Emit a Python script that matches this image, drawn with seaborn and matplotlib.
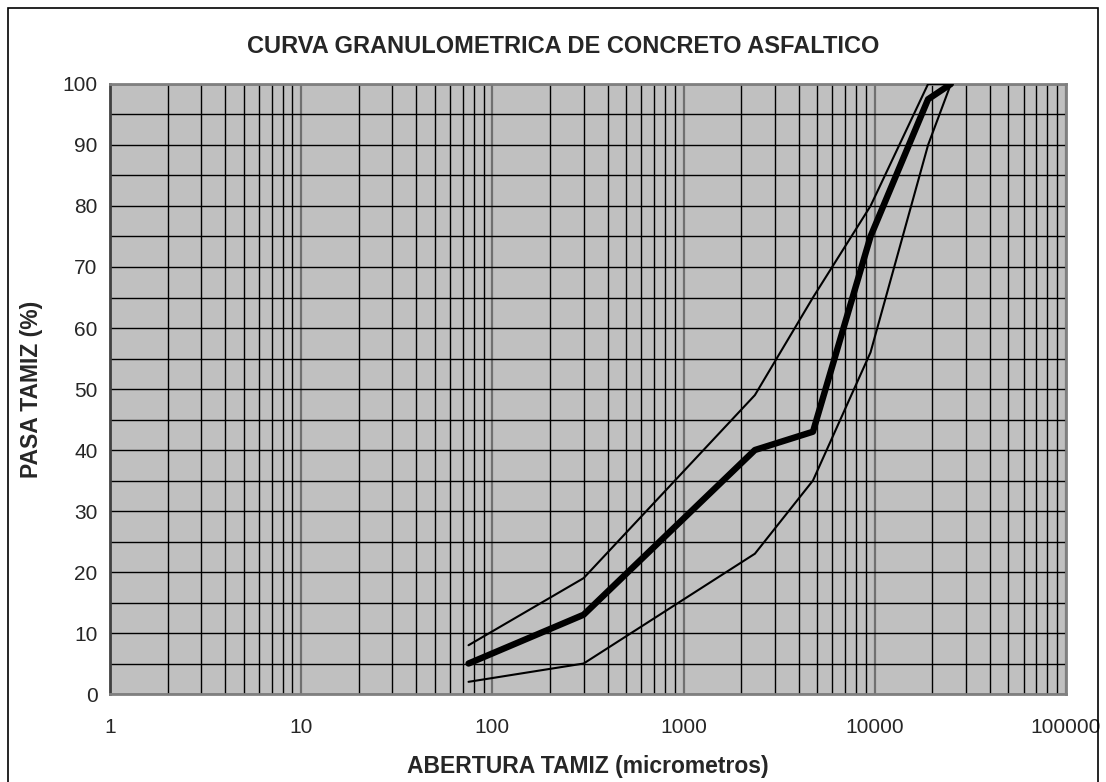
import numpy as np
import pandas as pd
import matplotlib
matplotlib.use("Agg")
import matplotlib.pyplot as plt
import matplotlib.ticker as mticker
from matplotlib.patches import Rectangle
import seaborn as sns

# =============================
# DATA
# =============================
abertura = [75, 300, 2360, 4750, 9500, 19000, 25000]   # micrometros
pasa_mezcla = [5, 13, 40, 43, 75, 97.5, 100]
pasa_limite_sup = [8, 19, 49, 65, 80, 100, 100]
pasa_limite_inf = [2, 5, 23, 35, 56, 90, 100]

TITLE = 'CURVA GRANULOMETRICA DE CONCRETO ASFALTICO'
XLABEL = 'ABERTURA TAMIZ (micrometros)'
YLABEL = 'PASA TAMIZ (%)'

# =============================
# Style
# =============================
sns.set_style('white')
plt.rcParams['font.family'] = ['Liberation Sans', 'DejaVu Sans']

df = pd.concat([
    pd.DataFrame({'abertura': abertura, 'pasa': pasa_limite_sup, 'serie': 'sup'}),
    pd.DataFrame({'abertura': abertura, 'pasa': pasa_limite_inf, 'serie': 'inf'}),
    pd.DataFrame({'abertura': abertura, 'pasa': pasa_mezcla, 'serie': 'mezcla'}),
])

fig = plt.figure(figsize=(11.06, 7.82), dpi=100)
ax = fig.add_axes([0.0995, 0.1125, 0.8643, 0.7801])
ax.set_facecolor('#C0C0C0')

sns.lineplot(
    data=df,
    x='abertura',
    y='pasa',
    hue='serie',
    size='serie',
    palette={'sup': 'black', 'inf': 'black', 'mezcla': 'black'},
    sizes={'sup': 1.5, 'inf': 1.5, 'mezcla': 4.6},
    sort=False,
    estimator=None,
    legend=False,
    ax=ax,
    zorder=5,
)

ax.set_xscale('log')
ax.set_xlim(1, 100000)
ax.set_ylim(0, 100)

# grid: horizontal every 5, vertical at every log minor position
ax.yaxis.set_major_locator(mticker.MultipleLocator(10))
ax.yaxis.set_minor_locator(mticker.MultipleLocator(5))
ax.xaxis.set_major_locator(mticker.LogLocator(base=10, numticks=10))
ax.xaxis.set_minor_locator(mticker.LogLocator(base=10, subs=np.arange(2, 10), numticks=100))
ax.xaxis.set_major_formatter(mticker.FuncFormatter(lambda v, p: f'{v:.0f}'))
ax.xaxis.set_minor_formatter(mticker.NullFormatter())

ax.grid(True, which='major', axis='y', color='black', lw=1.0, zorder=1)
ax.grid(True, which='minor', axis='y', color='black', lw=1.0, zorder=1)
ax.grid(True, which='minor', axis='x', color='black', lw=1.0, zorder=1)
ax.grid(True, which='major', axis='x', color='#707070', lw=1.6, zorder=1)
ax.set_axisbelow(True)

ax.tick_params(axis='both', which='major', direction='out', length=5, width=1,
               color='black', labelsize=15, pad=4)
ax.tick_params(axis='both', which='minor', length=0)
ax.tick_params(axis='x', pad=12)

for side in ['top', 'right', 'bottom']:
    ax.spines[side].set_color('#808080')
    ax.spines[side].set_linewidth(2)
ax.spines['left'].set_color('#404040')
ax.spines['left'].set_linewidth(2)

fig.text(0.509, 0.94, TITLE, ha='center', va='center', fontsize=17, fontweight='bold')
ax.set_xlabel(XLABEL, fontsize=16.5, fontweight='bold', labelpad=13)
ax.set_ylabel(YLABEL, fontsize=16.5, fontweight='bold', labelpad=14)

# outer frame of the chart area
fig.patches.append(Rectangle((0.007, -0.01), 0.986, 1.0, transform=fig.transFigure,
                             fill=False, edgecolor='black', lw=1.2))

fig.savefig('out.png', dpi=100)
plt.close(fig)
